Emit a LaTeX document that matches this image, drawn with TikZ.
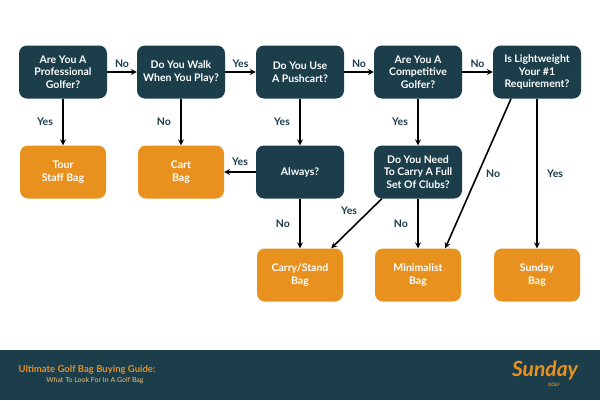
\documentclass[tikz,border=0pt]{standalone}
\usepackage{fontspec}
\setmainfont{Lato}
\usetikzlibrary{calc}
\definecolor{dk}{HTML}{1C3D4A}
\definecolor{og}{HTML}{E8911F}
\begin{document}
\begin{tikzpicture}[x=1pt,y=-1pt,
 q/.style={fill=dk,rounded corners=8pt,minimum width=88pt,minimum height=53pt,text=white,font=\bfseries\fontsize{10.5}{12.5}\selectfont,align=center,inner sep=1pt},
 a/.style={fill=og,rounded corners=8pt,minimum width=86pt,minimum height=53pt,text=white,font=\bfseries\fontsize{10.5}{12.5}\selectfont,align=center,inner sep=1pt},
 ar/.style={draw=black,line width=1.6pt,-{stealth}},
 lb/.style={text=dk,font=\bfseries\fontsize{10.5}{12}\selectfont}]
\useasboundingbox (0,0) rectangle (600,400);
\fill[white] (0,0) rectangle (600,400);
\fill[dk] (0,350) rectangle (600,400);
\node[q] (q1) at (63,72) {Are You A\\Professional\\Golfer?};
\node[q] (q2) at (181,72) {Do You Walk\\When You Play?};
\node[q] (q3) at (300,72) {Do You Use\\A Pushcart?};
\node[q] (q4) at (418,72) {Are You A\\Competitive\\Golfer?};
\node[q] (q5) at (537,72) {Is Lightweight\\Your \#1\\Requirement?};
\node[a] (tour) at (63,172) {Tour\\Staff Bag};
\node[a] (cart) at (181,172) {Cart\\Bag};
\node[q] (alw) at (300,172) {Always?};
\node[q] (need) at (418,172) {Do You Need\\To Carry A Full\\Set Of Clubs?};
\node[a] (carry) at (300,275) {Carry/Stand\\Bag};
\node[a] (mini) at (418,275) {Minimalist\\Bag};
\node[a] (sun) at (537,275) {Sunday\\Bag};
\coordinate (n1) at ($(need.south west)+(8,0)$);
\coordinate (c1) at ($(carry.north east)+(-12,0)$);
\coordinate (l1) at ($(q5.south)+(-26,0)$);
\coordinate (m1) at ($(mini.north east)+(-16,0)$);
\draw[ar] (q1) -- node[lb,above]{No} (q2);
\draw[ar] (q2) -- node[lb,above]{Yes} (q3);
\draw[ar] (q3) -- node[lb,above]{No} (q4);
\draw[ar] (q4) -- node[lb,above]{No} (q5);
\draw[ar] (q1) -- node[lb,left,xshift=-6pt]{Yes} (tour);
\draw[ar] (q2) -- node[lb,left,xshift=-6pt]{No} (cart);
\draw[ar] (q3) -- node[lb,left,xshift=-6pt]{Yes} (alw);
\draw[ar] (q4) -- node[lb,left,xshift=-6pt]{Yes} (need);
\draw[ar] (alw) -- node[lb,above,yshift=2pt]{Yes} (cart);
\draw[ar] (alw) -- node[lb,left,xshift=-6pt]{No} (carry);
\draw[ar] (need) -- node[lb,left,xshift=-6pt]{No} (mini);
\draw[ar] (n1) -- node[lb,left,pos=0.25,xshift=-8pt]{Yes} (c1);
\draw[ar] (l1) -- node[lb,right,pos=0.5,xshift=4pt]{No} (m1);
\draw[ar] (q5) -- node[lb,right,xshift=6pt]{Yes} (sun);
\node[text=og,font=\bfseries\fontsize{9.5}{11}\selectfont,anchor=west] (t1) at (15,370) {Ultimate Golf Bag Buying Guide:};
\node[text=og!60!white,font=\fontsize{7}{8}\selectfont] (t2) at (95,381) {What To Look For In A Golf Bag};
\node[text=og,font=\itshape\bfseries\fontsize{21}{22}\selectfont] (logo) at (545,370) {Sunday};
\node[text=og,font=\bfseries\fontsize{4.5}{5}\selectfont] (golf) at (554,385) {GOLF};
\end{tikzpicture}
\end{document}
